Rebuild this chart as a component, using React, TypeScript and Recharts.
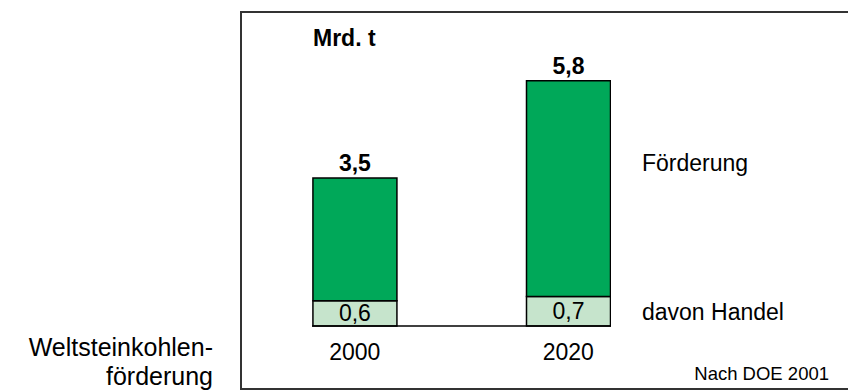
import React from 'react';
import { BarChart, Bar, XAxis, YAxis, LabelList } from 'recharts';

// Weltsteinkohlenförderung in Mrd. t
const years = [2000, 2020];
const foerderung = [3.5, 5.8];
const handel = [0.6, 0.7];

const data = years.map((year, i) => ({
  year,
  total: foerderung[i],
  handel: handel[i],
  rest: +(foerderung[i] - handel[i]).toFixed(2),
}));

const FONT = '"Liberation Sans", Arial, Helvetica, sans-serif';
const fmt = (v: number | string) => Number(v).toFixed(1).replace('.', ',');

export default function App() {
  return (
    <div style={{ position: 'absolute', left: 0, top: 0, width: 848, height: 392, background: '#fff', fontFamily: FONT }}>
      <svg width={848} height={392} style={{ position: 'absolute', left: 0, top: 0 }}>
        <rect x={241} y={12} width={700} height={377} fill="none" stroke="#333" strokeWidth={2} />
        <text x={313} y={46} fontSize={23} fontWeight="bold" fill="#000" fontFamily={FONT}>Mrd. t</text>
        <text x={642} y={171} fontSize={23} fill="#000" fontFamily={FONT}>Förderung</text>
        <text x={642} y={320} fontSize={23} fill="#000" fontFamily={FONT}>davon Handel</text>
        <text x={829} y={380} fontSize={18.5} fill="#000" fontFamily={FONT} textAnchor="end">Nach DOE 2001</text>
        <text x={213} y={356} fontSize={25} fill="#000" fontFamily={FONT} textAnchor="end">Weltsteinkohlen-</text>
        <text x={213} y={385} fontSize={25} fill="#000" fontFamily={FONT} textAnchor="end">förderung</text>
      </svg>
      <div style={{ position: 'absolute', left: 0, top: 0 }}>
        <BarChart
          width={848}
          height={392}
          data={data}
          margin={{ top: 30, right: 237, bottom: 36, left: 312 }}
          barGap={0}
        >
          <XAxis
            dataKey="year"
            type="number"
            domain={[1996, 2024]}
            ticks={years}
            height={30}
            axisLine={{ stroke: '#000', strokeWidth: 1.5 }}
            tickLine={false}
            tickMargin={12}
            tick={{ fill: '#000', fontSize: 23, fontFamily: FONT }}
            tickFormatter={(v: number) => String(v)}
            allowDataOverflow
          />
          <YAxis hide domain={[0, 7]} />
          <Bar dataKey="handel" stackId="a" fill="#C6E4CC" stroke="#000" strokeWidth={1.5} barSize={84} isAnimationActive={false}>
            <LabelList dataKey="handel" position="center" formatter={fmt} fill="#000" fontSize={23} fontFamily={FONT} />
          </Bar>
          <Bar dataKey="rest" stackId="a" fill="#00A859" stroke="#000" strokeWidth={1.5} barSize={84} isAnimationActive={false}>
            <LabelList dataKey="total" position="top" offset={7} formatter={fmt} fill="#000" fontSize={23} fontWeight="bold" fontFamily={FONT} />
          </Bar>
        </BarChart>
      </div>
    </div>
  );
}
